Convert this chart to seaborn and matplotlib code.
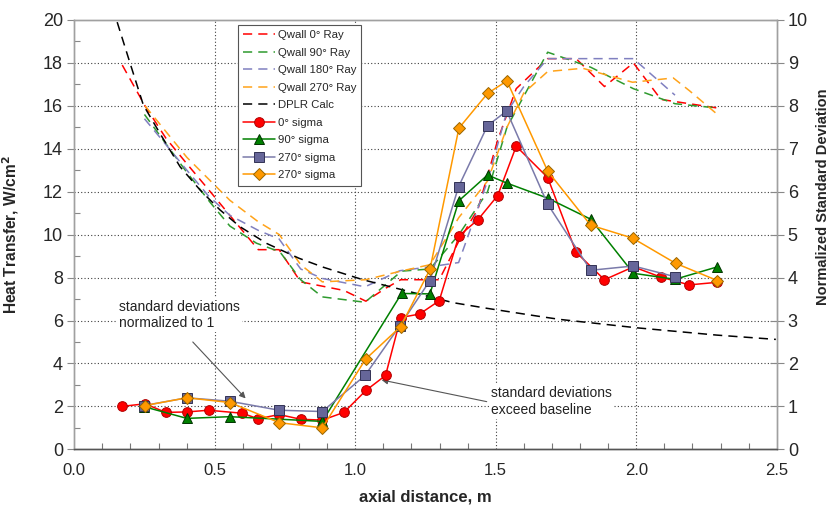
import matplotlib
matplotlib.use("Agg")
import matplotlib.pyplot as plt
from matplotlib.ticker import MultipleLocator
from matplotlib.lines import Line2D
import seaborn as sns

# ---- wall heat transfer along each ray, W/cm^2 (left axis) ----
qwall0_x = [0.171, 0.252, 0.326, 0.401, 0.478, 0.598, 0.655, 0.729, 0.806, 0.883, 0.960,
            1.038, 1.108, 1.162, 1.229, 1.299, 1.369, 1.437, 1.507, 1.573, 1.685, 1.786,
            1.887, 1.990, 2.088, 2.189, 2.289]
qwall0_y = [17.9, 16.0, 14.5, 13.3, 12.1, 10.2, 9.3, 9.3, 7.8, 7.6, 7.4,
            6.9, 7.5, 7.9, 7.9, 7.9, 9.7, 11.2, 14.4, 16.8, 18.2, 18.2,
            16.9, 18.0, 16.3, 16.1, 15.9]

qwall90_x = [0.250, 0.401, 0.484, 0.554, 0.649, 0.732, 0.806, 0.883, 1.035, 1.165, 1.266,
             1.369, 1.471, 1.540, 1.685, 1.838, 1.990, 2.138, 2.289]
qwall90_y = [15.6, 12.9, 11.5, 10.4, 9.6, 9.2, 7.9, 7.1, 6.85, 8.3, 8.4,
             10.0, 12.0, 15.0, 18.5, 17.8, 16.8, 16.1, 15.9]

qwall180_x = [0.250, 0.326, 0.401, 0.478, 0.554, 0.655, 0.729, 0.806, 0.883, 1.035, 1.159,
              1.266, 1.368, 1.471, 1.539, 1.600, 1.685, 1.838, 1.990, 2.138]
qwall180_y = [15.4, 14.2, 13.0, 11.8, 10.9, 10.2, 9.8, 8.4, 7.96, 7.57, 8.32,
              8.5, 8.7, 12.5, 15.7, 16.9, 18.2, 18.2, 18.2, 16.5]

qwall270_x = [0.252, 0.401, 0.554, 0.655, 0.730, 0.806, 0.883, 1.037, 1.162, 1.266, 1.369,
              1.471, 1.540, 1.600, 1.685, 1.810, 1.987, 2.132, 2.190, 2.289]
qwall270_y = [16.0, 13.6, 11.6, 10.6, 10.0, 8.6, 7.8, 7.9, 8.3, 8.6, 10.8,
              12.5, 15.0, 16.6, 17.6, 17.75, 17.1, 17.3, 16.7, 15.6]

dplr_x = [0.153, 0.199, 0.246, 0.305, 0.377, 0.448, 0.519, 0.590, 0.685, 0.800, 0.887,
          1.030, 1.171, 1.349, 1.468, 1.646, 1.729, 2.002, 2.287, 2.497]
dplr_y = [19.9, 17.98, 16.04, 14.72, 13.16, 12.08, 11.15, 10.37, 9.59, 8.9, 8.48,
          7.89, 7.42, 6.83, 6.57, 6.21, 6.05, 5.66, 5.32, 5.12]

# ---- normalized standard deviation (right axis) ----
sig0_x = [0.171, 0.252, 0.326, 0.401, 0.478, 0.598, 0.655, 0.729, 0.806, 0.883, 0.960,
          1.038, 1.108, 1.162, 1.229, 1.299, 1.369, 1.437, 1.507, 1.573, 1.685, 1.786,
          1.887, 1.990, 2.088, 2.189, 2.289]
sig0_y = [1.00, 1.06, 0.86, 0.87, 0.91, 0.84, 0.71, 0.81, 0.70, 0.68, 0.86,
          1.37, 1.72, 3.07, 3.15, 3.46, 4.97, 5.35, 5.91, 7.06, 6.33, 4.59,
          3.95, 4.25, 4.01, 3.83, 3.89]

sig90_x = [0.250, 0.401, 0.554, 0.883, 1.165, 1.266, 1.369, 1.471, 1.540, 1.685, 1.838,
           1.990, 2.138, 2.289]
sig90_y = [0.99, 0.72, 0.76, 0.65, 3.63, 3.62, 5.79, 6.39, 6.20, 5.85, 5.36,
           4.10, 3.96, 4.25]

sig180_x = [0.250, 0.401, 0.554, 0.729, 0.883, 1.035, 1.159, 1.266, 1.368, 1.471, 1.539,
            1.685, 1.838, 1.990, 2.138]
sig180_y = [1.02, 1.20, 1.12, 0.91, 0.88, 1.72, 2.88, 3.93, 6.12, 7.54, 7.88,
            5.71, 4.17, 4.27, 4.02]

sig270_x = [0.252, 0.401, 0.554, 0.730, 0.883, 1.037, 1.162, 1.266, 1.369, 1.471, 1.540,
            1.685, 1.838, 1.987, 2.141, 2.289]
sig270_y = [1.02, 1.20, 1.09, 0.62, 0.50, 2.10, 2.86, 4.19, 7.48, 8.29, 8.58,
            6.48, 5.22, 4.92, 4.33, 3.93]

qwall_labels = ["Qwall 0° Ray", "Qwall 90° Ray", "Qwall 180° Ray", "Qwall 270° Ray", "DPLR Calc"]
sigma_labels = ["0° sigma", "90° sigma", "270° sigma", "270° sigma"]

sns.set_theme(style="white")
plt.rcParams["font.family"] = ["Liberation Sans", "DejaVu Sans"]

fig = plt.figure(figsize=(8.33, 5.08), dpi=100)
ax = fig.add_axes([74.2 / 833, 58.7 / 508, 702.5 / 833, 429.3 / 508])
ax2 = ax.twinx()

dash = (0, (6, 4))
qwall_series = [
    (qwall0_x, qwall0_y, "#ff0000"),
    (qwall90_x, qwall90_y, "#2e9a2e"),
    (qwall180_x, qwall180_y, "#8080c0"),
    (qwall270_x, qwall270_y, "#ffa31a"),
    (dplr_x, dplr_y, "#000000"),
]
for (xs, ys, col), lab in zip(qwall_series, qwall_labels):
    sns.lineplot(x=xs, y=ys, ax=ax, sort=False, color=col, linestyle=dash,
                 linewidth=1.1, label=lab, legend=False)

sigma_series = [
    (sig0_x, sig0_y, "#ff0000", "o", "#ff0000", "#b00000", 7.0),
    (sig90_x, sig90_y, "#008000", "^", "#008000", "#003300", 7.5),
    (sig180_x, sig180_y, "#7a7aaa", "s", "#666699", "#333355", 6.5),
    (sig270_x, sig270_y, "#ff9900", "D", "#ff9900", "#996600", 6.0),
]
for (xs, ys, col, mk, mfc, mec, ms), lab in zip(sigma_series, sigma_labels):
    sns.lineplot(x=xs, y=ys, ax=ax2, sort=False, color=col, linewidth=1.1,
                 marker=mk, markersize=ms, markerfacecolor=mfc, markeredgecolor=mec,
                 markeredgewidth=0.7, label=lab, legend=False)

# axes limits and ticks
ax.set_xlim(0, 2.5)
ax.set_ylim(0, 20)
ax2.set_ylim(0, 10)
ax.xaxis.set_major_locator(MultipleLocator(0.5))
ax.xaxis.set_minor_locator(MultipleLocator(0.1))
ax.yaxis.set_major_locator(MultipleLocator(2))
ax.yaxis.set_minor_locator(MultipleLocator(1))
ax2.yaxis.set_major_locator(MultipleLocator(1))
ax.set_xticks([0, 0.5, 1.0, 1.5, 2.0, 2.5])
ax.set_xticklabels(["0.0", "0.5", "1.0", "1.5", "2.0", "2.5"])

grid_kw = dict(color="#404040", linestyle=(0, (1, 2)), linewidth=0.8)
for yv in range(2, 20, 2):
    ax.axhline(yv, zorder=0, **grid_kw)
for xv in [0.5, 1.0, 1.5, 2.0]:
    ax.axvline(xv, zorder=0, **grid_kw)

ax.tick_params(axis="x", which="major", direction="inout", length=8, width=0.8,
               color="#555555", labelsize=12, pad=6)
ax.tick_params(axis="x", which="minor", direction="in", length=4, width=0.8,
               color="#777777", bottom=True)
ax.tick_params(axis="y", which="major", direction="out", length=5, width=0.8,
               color="#888888", labelsize=13, pad=3, left=True)
ax.tick_params(axis="y", which="minor", direction="in", length=4, width=0.8,
               color="#888888", left=True)
ax2.tick_params(axis="y", which="major", direction="inout", length=10, width=0.8,
                color="#888888", labelsize=13, pad=3, right=True)

for a in (ax, ax2):
    for side in ("top", "left", "right"):
        a.spines[side].set_color("#a0a0a0")
        a.spines[side].set_linewidth(1.0)
    a.spines["bottom"].set_color("#555555")
    a.spines["bottom"].set_linewidth(1.0)

ax.set_xlabel("axial distance, m", fontsize=12, fontweight="bold", labelpad=8)
ax.set_ylabel("Heat Transfer, W/cm$^\\mathbf{2}$", fontsize=11.2, fontweight="bold")
ax.yaxis.set_label_coords(-0.076, 0.50)
ax2.set_ylabel("Normalized Standard Deviation", fontsize=10.5, fontweight="bold")
ax2.yaxis.set_label_coords(1.056, 0.588)

# callouts
box = dict(boxstyle="square,pad=0.15", facecolor="white", edgecolor="none")
ax.text(0.16, 6.25, "standard deviations\nnormalized to 1", fontsize=10, color="#222222",
        ha="left", va="center", linespacing=1.2, bbox=box, zorder=3)
ax.annotate("", xy=(0.610, 2.37), xytext=(0.422, 5.0),
            arrowprops=dict(arrowstyle="-|>", color="#555555", lw=0.8,
                            mutation_scale=9, shrinkA=0, shrinkB=0), zorder=3)
ax.text(1.482, 2.23, "standard deviations\nexceed baseline", fontsize=10, color="#222222",
        ha="left", va="center", linespacing=1.2, bbox=box, zorder=3)
ax.annotate("", xy=(1.094, 3.23), xytext=(1.468, 2.22),
            arrowprops=dict(arrowstyle="-|>", color="#555555", lw=0.8,
                            mutation_scale=9, shrinkA=0, shrinkB=0), zorder=3)

# combined legend
handles = []
for (xs, ys, col), lab in zip(qwall_series, qwall_labels):
    handles.append(Line2D([], [], color=col, linestyle=dash, linewidth=1.1, label=lab))
for (xs, ys, col, mk, mfc, mec, ms), lab in zip(sigma_series, sigma_labels):
    handles.append(Line2D([], [], color=col, linewidth=1.1, marker=mk, markersize=ms,
                          markerfacecolor=mfc, markeredgecolor=mec, markeredgewidth=0.7,
                          label=lab))
leg = ax2.legend(handles=handles, loc="upper left", bbox_to_anchor=(0.233, 0.988),
                 borderaxespad=0, fontsize=8.2, frameon=True, fancybox=False,
                 edgecolor="#555555", framealpha=1, handlelength=2.8, handletextpad=0.25,
                 labelspacing=0.66, borderpad=0.45)
leg.get_frame().set_linewidth(0.8)
leg.set_zorder(10)

fig.savefig("out.png", dpi=100, facecolor="white")
